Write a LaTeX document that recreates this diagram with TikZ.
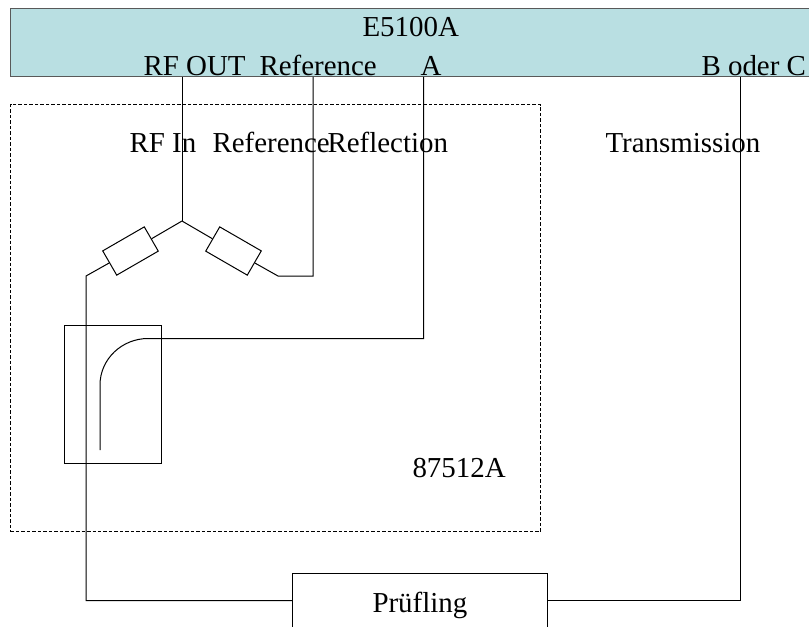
\documentclass[tikz,border=0pt]{standalone}
\usepackage{fontspec}
\setmainfont{Liberation Serif}
\usepackage{xcolor}
\usetikzlibrary{positioning}
\definecolor{panelcol}{HTML}{B9DFE2}

\begin{document}
\begin{tikzpicture}[
    x=0.75pt, y=-0.75pt,
    line width=0.75pt,
    font=\fontsize{21.7}{26}\selectfont,
    txt/.style={inner sep=0pt, anchor=base west},
    atten/.style={rectangle, draw=black, fill=white, minimum width=36pt, minimum height=21pt, inner sep=0pt}
]
\useasboundingbox (0,0) rectangle (809,626);
\clip (0,0) rectangle (809,626);

\node[rectangle, draw=black!65, fill=panelcol, line width=1pt, anchor=north west, minimum width=622pt, minimum height=51pt, inner sep=0pt] (analyzer) at (9.5,7.5) {};
\node[rectangle, draw=black, dashed, dash pattern=on 2.6pt off 1.5pt, anchor=north west, minimum width=397.5pt, minimum height=320.6pt, inner sep=0pt] (testset) at (10,104) {};
\node[rectangle, draw=black, anchor=north west, minimum width=72.8pt, minimum height=103.5pt, inner sep=0pt] (coupler) at (64.2,324.7) {};
\node[rectangle, draw=black, anchor=north west, minimum width=191.5pt, minimum height=60pt, inner sep=0pt] (dut) at (291.8,573) {};

\coordinate (split) at (182,221);
\coordinate (lowleft) at (86,276);
\coordinate (lowright) at (278,276);
\coordinate (refbend) at (313,276);
\coordinate (abend) at (423.5,338.5);
\coordinate (arcstart) at (148,338.5);
\coordinate (arcend) at (100,385);
\coordinate (coupend) at (100,450);
\coordinate (dutleft) at (86,600.5);
\coordinate (dutright) at (740.5,600.5);

\node[atten, rotate=30] (attleft) at (130.5,251) {};
\node[atten, rotate=-30] (attright) at (233.5,251) {};

\draw (analyzer.south -| split) -- (split);
\draw (split) -- (attleft);
\draw (split) -- (attright);
\draw (attleft) -- (lowleft) -- (dutleft) -- (dutleft -| dut.west);
\draw (attright) -- (lowright) -- (refbend) -- (analyzer.south -| refbend);
\draw (analyzer.south -| abend) -- (abend) -- (arcstart) .. controls (122,338.5) and (100,359) .. (arcend) -- (coupend);
\draw (analyzer.south -| dutright) -- (dutright) -- (dutright -| dut.east);

\node[txt] (title) at (362,36) {E5100A};
\node[txt] (rfout) at (143,75) {RF OUT};
\node[txt] (refout) at (259,75) {Reference};
\node[txt] (porta) at (420,75) {A};
\node[txt] (portbc) at (701,75) {B oder C};
\node[txt] (rfin) at (129,152) {RF In};
\node[txt] (refin) at (212,152) {Reference};
\node[txt] (reflect) at (327,152) {Reflection};
\node[txt] (trans) at (605,152) {Transmission};
\node[txt] (setname) at (412,477) {87512A};
\node[txt] (dutname) at (372,612) {Prüfling};
\end{tikzpicture}
\end{document}
